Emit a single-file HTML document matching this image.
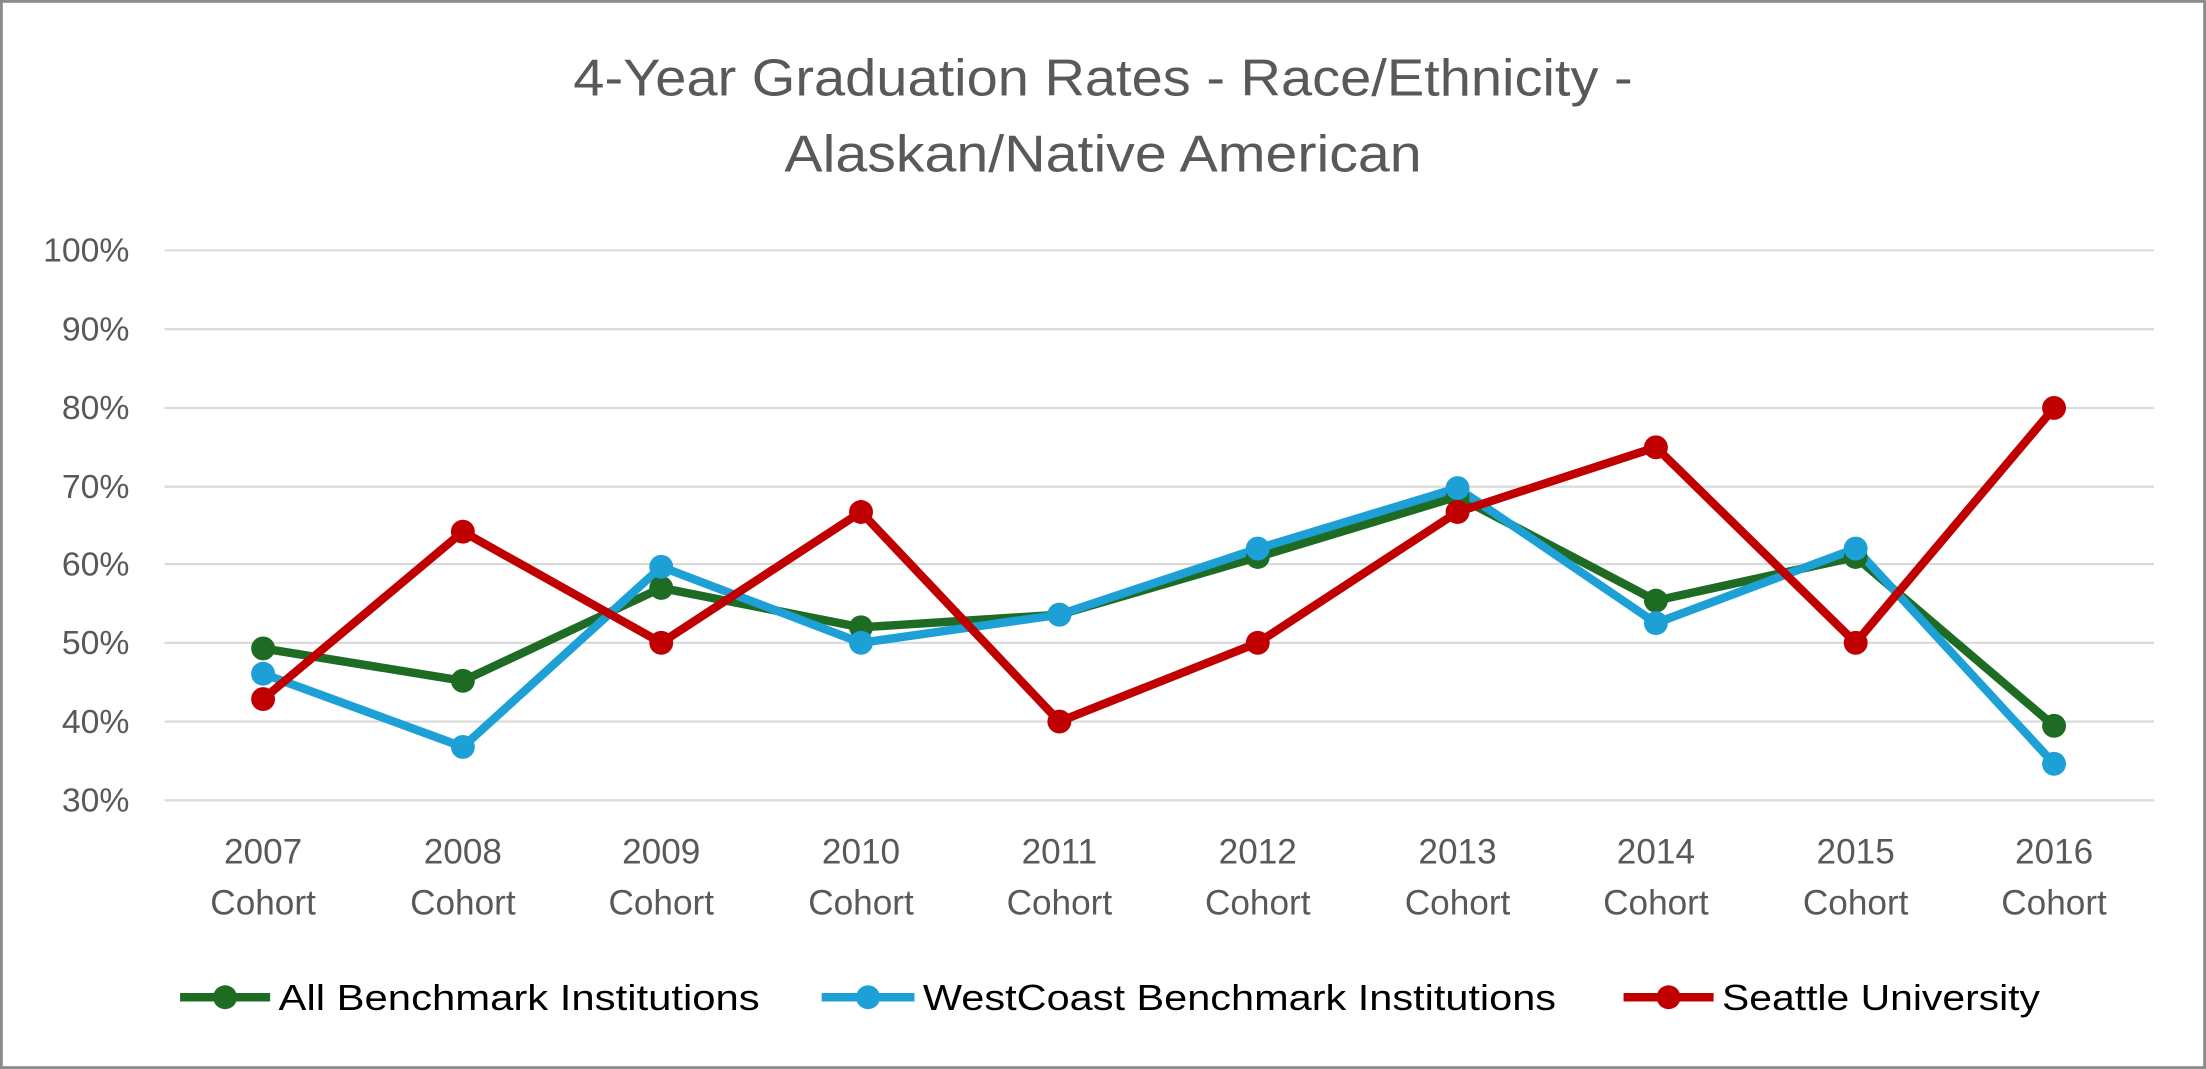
<!DOCTYPE html>
<html><head><meta charset="utf-8"><style>
html,body{margin:0;padding:0;background:#fff;}
svg{display:block;}
</style></head><body>
<svg width="2206" height="1069" viewBox="0 0 1568 760" preserveAspectRatio="none" xmlns="http://www.w3.org/2000/svg" font-family="Liberation Sans, sans-serif">
<rect x="1" y="1" width="1566" height="758" fill="#fff" stroke="#8c8c8c" stroke-width="2"/>
<text x="784" y="68" text-anchor="middle" font-size="37" fill="#595959" textLength="753" lengthAdjust="spacingAndGlyphs">4-Year Graduation Rates - Race/Ethnicity -</text>
<text x="784" y="122" text-anchor="middle" font-size="37" fill="#595959" textLength="453" lengthAdjust="spacingAndGlyphs">Alaskan/Native American</text>
<g stroke="#d9d9d9" stroke-width="1.5">
<line x1="117" x2="1531" y1="178" y2="178"/>
<line x1="117" x2="1531" y1="234" y2="234"/>
<line x1="117" x2="1531" y1="290" y2="290"/>
<line x1="117" x2="1531" y1="346" y2="346"/>
<line x1="117" x2="1531" y1="401" y2="401"/>
<line x1="117" x2="1531" y1="457" y2="457"/>
<line x1="117" x2="1531" y1="513" y2="513"/>
<line x1="117" x2="1531" y1="569" y2="569"/>
</g>
<g font-size="24" fill="#595959" text-anchor="end">
<text x="92" y="186">100%</text>
<text x="92" y="242">90%</text>
<text x="92" y="298">80%</text>
<text x="92" y="354">70%</text>
<text x="92" y="409">60%</text>
<text x="92" y="465">50%</text>
<text x="92" y="521">40%</text>
<text x="92" y="577">30%</text>
</g>
<g font-size="25" fill="#595959" text-anchor="middle">
<text x="187" y="614">2007</text><text x="187" y="650">Cohort</text>
<text x="329" y="614">2008</text><text x="329" y="650">Cohort</text>
<text x="470" y="614">2009</text><text x="470" y="650">Cohort</text>
<text x="612" y="614">2010</text><text x="612" y="650">Cohort</text>
<text x="753" y="614">2011</text><text x="753" y="650">Cohort</text>
<text x="894" y="614">2012</text><text x="894" y="650">Cohort</text>
<text x="1036" y="614">2013</text><text x="1036" y="650">Cohort</text>
<text x="1177" y="614">2014</text><text x="1177" y="650">Cohort</text>
<text x="1319" y="614">2015</text><text x="1319" y="650">Cohort</text>
<text x="1460" y="614">2016</text><text x="1460" y="650">Cohort</text>
</g>
<g fill="none" stroke-width="6" stroke-linejoin="round">
<polyline stroke="#1e6b23" points="187,461 329,484 470,418 612,446 753,437 894,396 1036,353 1177,427 1319,396 1460,516"/>
<polyline stroke="#1ca0d6" points="187,479 329,531 470,403 612,457 753,437 894,390 1036,347 1177,443 1319,390 1460,543"/>
<polyline stroke="#c00000" points="187,497 329,378 470,457 612,364 753,513 894,457 1036,364 1177,318 1319,457 1460,290"/>
</g>
<g fill="#1e6b23">
<circle cx="187" cy="461" r="8.5"/><circle cx="329" cy="484" r="8.5"/><circle cx="470" cy="418" r="8.5"/><circle cx="612" cy="446" r="8.5"/><circle cx="753" cy="437" r="8.5"/><circle cx="894" cy="396" r="8.5"/><circle cx="1036" cy="353" r="8.5"/><circle cx="1177" cy="427" r="8.5"/><circle cx="1319" cy="396" r="8.5"/><circle cx="1460" cy="516" r="8.5"/>
</g>
<g fill="#1ca0d6">
<circle cx="187" cy="479" r="8.5"/><circle cx="329" cy="531" r="8.5"/><circle cx="470" cy="403" r="8.5"/><circle cx="612" cy="457" r="8.5"/><circle cx="753" cy="437" r="8.5"/><circle cx="894" cy="390" r="8.5"/><circle cx="1036" cy="347" r="8.5"/><circle cx="1177" cy="443" r="8.5"/><circle cx="1319" cy="390" r="8.5"/><circle cx="1460" cy="543" r="8.5"/>
</g>
<g fill="#c00000">
<circle cx="187" cy="497" r="8.5"/><circle cx="329" cy="378" r="8.5"/><circle cx="470" cy="457" r="8.5"/><circle cx="612" cy="364" r="8.5"/><circle cx="753" cy="513" r="8.5"/><circle cx="894" cy="457" r="8.5"/><circle cx="1036" cy="364" r="8.5"/><circle cx="1177" cy="318" r="8.5"/><circle cx="1319" cy="457" r="8.5"/><circle cx="1460" cy="290" r="8.5"/>
</g>
<g font-size="26" fill="#000">
<line x1="128" x2="192" y1="709" y2="709" stroke="#1e6b23" stroke-width="6"/><circle cx="160" cy="709" r="8.5" fill="#1e6b23"/>
<text x="198" y="718" textLength="342" lengthAdjust="spacingAndGlyphs">All Benchmark Institutions</text>
<line x1="584" x2="650" y1="709" y2="709" stroke="#1ca0d6" stroke-width="6"/><circle cx="617" cy="709" r="8.5" fill="#1ca0d6"/>
<text x="656" y="718" textLength="450" lengthAdjust="spacingAndGlyphs">WestCoast Benchmark Institutions</text>
<line x1="1154" x2="1218" y1="709" y2="709" stroke="#c00000" stroke-width="6"/><circle cx="1186" cy="709" r="8.5" fill="#c00000"/>
<text x="1224" y="718" textLength="226" lengthAdjust="spacingAndGlyphs">Seattle University</text>
</g>
</svg>
</body></html>
